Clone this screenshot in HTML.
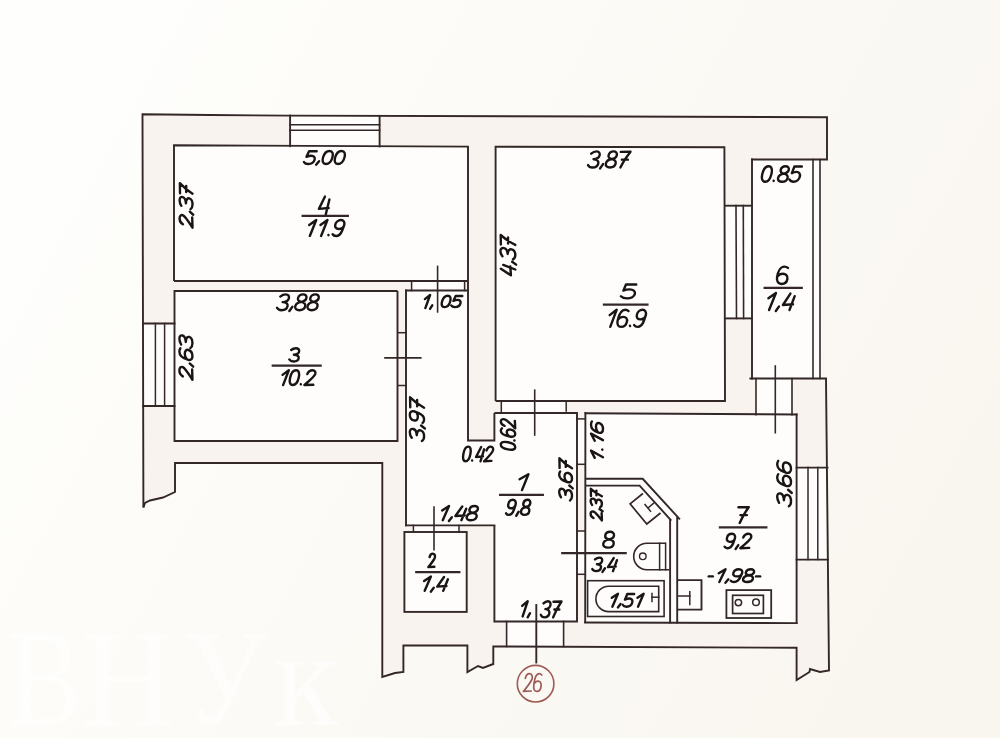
<!DOCTYPE html>
<html><head><meta charset="utf-8"><style>
html,body{margin:0;padding:0;background:#faf8f5;}
svg{display:block}
.t{font-family:"Liberation Sans",sans-serif;font-style:italic;fill:#1a1414;stroke:#1a1414}
.hw path{fill:none;stroke:#1a1414;stroke-width:2.4;stroke-linecap:round;stroke-linejoin:round;vector-effect:non-scaling-stroke}
.hw.r path{stroke:#9e5b55;stroke-width:1.7}
</style></head><body>
<svg width="1000" height="738" viewBox="0 0 1000 738">
<defs><linearGradient id="bgg" x1="0" y1="0.3" x2="1" y2="0.7"><stop offset="0" stop-color="#fefefc"/><stop offset="0.6" stop-color="#fbf9f4"/><stop offset="1" stop-color="#f9f6f0"/></linearGradient></defs><rect width="1000" height="738" fill="url(#bgg)"/>
<polygon points="142.5,114.3 210,115 290,115.6 610,116.5 827,117.3 827,159.5 820,159.5 820,378.5 826,378.5 829,670.5 820,672 810,669 809.5,672 796.6,680 796.6,647.8 493.3,646.5 493.3,664 483,668 478,666 467.4,672 467.4,645.5 403.4,645.5 403.4,672 395,673 382.3,677 382.3,463 175,463 175,492 163,497.5 150,500.5 145,503 143.4,507.5" fill="#f9f3ef" stroke="none" stroke-width="0" stroke-linejoin="miter"/>
<rect x="174" y="146" width="294" height="135" fill="#fefdfc"/>
<rect x="174.5" y="291" width="223.0" height="150" fill="#fefdfc"/>
<rect x="495" y="147" width="230" height="254" fill="#fefdfc"/>
<rect x="752" y="159.5" width="61" height="219.0" fill="#fefdfc"/>
<rect x="406" y="290.5" width="62" height="234.89999999999998" fill="#fefdfc"/>
<rect x="494.4" y="413" width="82.60000000000002" height="208.5" fill="#fefdfc"/>
<rect x="406" y="440.5" width="88.39999999999998" height="84.89999999999998" fill="#fefdfc"/>
<rect x="404.4" y="532" width="62.30000000000001" height="79.89999999999998" fill="#fefdfc"/>
<rect x="585" y="414.5" width="211.60000000000002" height="208.5" fill="#fefdfc"/>
<rect x="577" y="419" width="8" height="45.3" fill="#fefdfc"/>
<rect x="577" y="531" width="8" height="43.3" fill="#fefdfc"/>
<rect x="813" y="159.5" width="7" height="219" fill="#fefdfc"/>
<rect x="290" y="115.8" width="89.5" height="30.5" fill="#fefdfc"/>
<rect x="143" y="323.5" width="31.5" height="82.5" fill="#fefdfc"/>
<rect x="725" y="205.7" width="27" height="112.7" fill="#fefdfc"/>
<rect x="797" y="467.6" width="31" height="92" fill="#fefdfc"/>
<rect x="756" y="378.5" width="36" height="36" fill="#fefdfc"/>
<rect x="501.3" y="401" width="65" height="12" fill="#fefdfc"/>
<rect x="411.6" y="281" width="53" height="9.5" fill="#fefdfc"/>
<rect x="506.6" y="621.5" width="57" height="25" fill="#fefdfc"/>
<rect x="413.4" y="525.4" width="45.6" height="6.6" fill="#fefdfc"/>
<polyline points="143.4,507.5 142.5,114.3 210,115 290,115.6 610,116.5 827,117.3 827,159.5 751,159.5" fill="none" stroke="#332727" stroke-width="1.9" stroke-linejoin="miter"/>
<polyline points="826,378.5 829,670.5 820,672 810,669 809.5,672 796.6,680 796.6,647.8 493.3,646.5 493.3,664 483,668 478,666 467.4,672 467.4,645.5 403.4,645.5 403.4,672 395,673 382.3,677 382.3,463 175,463 175,492 163,497.5 150,500.5 145,503 143.4,507.5" fill="none" stroke="#332727" stroke-width="1.9" stroke-linejoin="miter"/>
<line x1="290.1" y1="115.6" x2="290.1" y2="146.2" stroke="#332727" stroke-width="1.9" stroke-linecap="square"/>
<line x1="379.6" y1="115.9" x2="379.6" y2="146.4" stroke="#332727" stroke-width="1.9" stroke-linecap="square"/>
<line x1="290" y1="124.7" x2="379.6" y2="124.7" stroke="#332727" stroke-width="1.6" stroke-linecap="square"/>
<line x1="290" y1="130.3" x2="379.6" y2="130.3" stroke="#332727" stroke-width="1.6" stroke-linecap="square"/>
<polyline points="174,281 174,145.3 468,146.6 468,281 174,281" fill="none" stroke="#332727" stroke-width="1.9" stroke-linejoin="miter"/>
<polyline points="397.5,291 174.5,291 174.5,441 397.5,441 397.5,291" fill="none" stroke="#332727" stroke-width="1.9" stroke-linejoin="miter"/>
<line x1="143" y1="323.5" x2="174.5" y2="323.5" stroke="#332727" stroke-width="1.9" stroke-linecap="square"/>
<line x1="143" y1="406" x2="174.5" y2="406" stroke="#332727" stroke-width="1.9" stroke-linecap="square"/>
<line x1="155.4" y1="323.5" x2="155.4" y2="406" stroke="#332727" stroke-width="1.5" stroke-linecap="square"/>
<line x1="164.6" y1="323.5" x2="164.6" y2="406" stroke="#332727" stroke-width="1.5" stroke-linecap="square"/>
<line x1="406" y1="290.5" x2="468" y2="290.5" stroke="#332727" stroke-width="1.9" stroke-linecap="square"/>
<line x1="406" y1="290.5" x2="406" y2="525.4" stroke="#332727" stroke-width="1.9" stroke-linecap="square"/>
<polyline points="468,281 468,440.5 494.4,440.5 494.4,413" fill="none" stroke="#332727" stroke-width="1.9" stroke-linejoin="miter"/>
<line x1="411.6" y1="281" x2="411.6" y2="290.5" stroke="#332727" stroke-width="1.5" stroke-linecap="square"/>
<line x1="464.6" y1="281" x2="464.6" y2="290.5" stroke="#332727" stroke-width="1.5" stroke-linecap="square"/>
<line x1="437.6" y1="266.4" x2="437.6" y2="311.9" stroke="#332727" stroke-width="1.6" stroke-linecap="square"/>
<line x1="398" y1="332.7" x2="406" y2="332.7" stroke="#332727" stroke-width="1.5" stroke-linecap="square"/>
<line x1="398" y1="385.5" x2="406" y2="385.5" stroke="#332727" stroke-width="1.5" stroke-linecap="square"/>
<line x1="385" y1="357.9" x2="420.8" y2="357.9" stroke="#332727" stroke-width="1.6" stroke-linecap="square"/>
<polyline points="495.6,401 495.6,146.7 724.4,147.2 725,401 495.6,401" fill="none" stroke="#332727" stroke-width="1.9" stroke-linejoin="miter"/>
<line x1="501.3" y1="401" x2="501.3" y2="413" stroke="#332727" stroke-width="1.5" stroke-linecap="square"/>
<line x1="566.2" y1="401" x2="566.2" y2="411" stroke="#332727" stroke-width="1.5" stroke-linecap="square"/>
<line x1="534.7" y1="390.2" x2="534.7" y2="435" stroke="#332727" stroke-width="1.6" stroke-linecap="square"/>
<line x1="725" y1="205.7" x2="752" y2="205.7" stroke="#332727" stroke-width="1.9" stroke-linecap="square"/>
<line x1="736" y1="205.6" x2="736.5" y2="318.4" stroke="#332727" stroke-width="1.6" stroke-linecap="square"/>
<line x1="743.3" y1="205.6" x2="743.6" y2="318.4" stroke="#332727" stroke-width="1.6" stroke-linecap="square"/>
<line x1="725" y1="318.4" x2="752" y2="318.4" stroke="#332727" stroke-width="1.9" stroke-linecap="square"/>
<line x1="752" y1="159.5" x2="752" y2="378.5" stroke="#332727" stroke-width="1.9" stroke-linecap="square"/>
<line x1="813" y1="159.5" x2="813" y2="378.5" stroke="#332727" stroke-width="1.6" stroke-linecap="square"/>
<line x1="820" y1="159.5" x2="820" y2="378.5" stroke="#332727" stroke-width="1.6" stroke-linecap="square"/>
<line x1="750.4" y1="378.5" x2="826" y2="378.5" stroke="#332727" stroke-width="1.9" stroke-linecap="square"/>
<line x1="756" y1="378.5" x2="756" y2="414.8" stroke="#332727" stroke-width="1.6" stroke-linecap="square"/>
<line x1="792" y1="378.5" x2="792" y2="414.8" stroke="#332727" stroke-width="1.6" stroke-linecap="square"/>
<line x1="775.3" y1="366" x2="775.3" y2="432.7" stroke="#332727" stroke-width="1.6" stroke-linecap="square"/>
<polyline points="494.4,525.4 494.4,621.5 577,621.5 577,413 494.4,413" fill="none" stroke="#332727" stroke-width="1.9" stroke-linejoin="miter"/>
<line x1="406" y1="525.4" x2="494.4" y2="525.4" stroke="#332727" stroke-width="1.9" stroke-linecap="square"/>
<rect x="404.4" y="532" width="62.30000000000001" height="79.89999999999998" fill="none" stroke="#332727" stroke-width="1.9"/>
<line x1="413.4" y1="525.4" x2="413.4" y2="532" stroke="#332727" stroke-width="1.5" stroke-linecap="square"/>
<line x1="459" y1="525.4" x2="459" y2="532" stroke="#332727" stroke-width="1.5" stroke-linecap="square"/>
<line x1="434" y1="507" x2="434" y2="549.8" stroke="#332727" stroke-width="1.6" stroke-linecap="square"/>
<line x1="506.6" y1="621.5" x2="506.6" y2="646.5" stroke="#332727" stroke-width="1.6" stroke-linecap="square"/>
<line x1="563.6" y1="621.5" x2="563.6" y2="646.5" stroke="#332727" stroke-width="1.6" stroke-linecap="square"/>
<line x1="536.3" y1="605" x2="536.3" y2="662.5" stroke="#332727" stroke-width="1.9" stroke-linecap="square"/>
<line x1="585.4" y1="413" x2="585.2" y2="622" stroke="#332727" stroke-width="1.9" stroke-linecap="square"/>
<line x1="585.5" y1="413.3" x2="796.6" y2="414.5" stroke="#332727" stroke-width="1.9" stroke-linecap="square"/>
<line x1="796.6" y1="414.5" x2="796.6" y2="623.1" stroke="#332727" stroke-width="1.9" stroke-linecap="square"/>
<line x1="585" y1="622.5" x2="796.6" y2="623.1" stroke="#332727" stroke-width="1.9" stroke-linecap="square"/>
<line x1="577" y1="418.9" x2="585" y2="418.9" stroke="#332727" stroke-width="1.5" stroke-linecap="square"/>
<line x1="577" y1="464.3" x2="585" y2="464.3" stroke="#332727" stroke-width="1.5" stroke-linecap="square"/>
<line x1="577" y1="531" x2="585" y2="531" stroke="#332727" stroke-width="1.5" stroke-linecap="square"/>
<line x1="577" y1="574.3" x2="585" y2="574.3" stroke="#332727" stroke-width="1.5" stroke-linecap="square"/>
<line x1="796.6" y1="467.6" x2="827.5" y2="467.6" stroke="#332727" stroke-width="1.9" stroke-linecap="square"/>
<line x1="796.6" y1="559.6" x2="828" y2="559.6" stroke="#332727" stroke-width="1.9" stroke-linecap="square"/>
<line x1="808" y1="467.6" x2="808" y2="559.6" stroke="#332727" stroke-width="1.5" stroke-linecap="square"/>
<line x1="817.8" y1="467.6" x2="817.8" y2="559.6" stroke="#332727" stroke-width="1.5" stroke-linecap="square"/>
<polyline points="585,478.8 642.7,478.8 679.9,519.4" fill="none" stroke="#332727" stroke-width="1.9" stroke-linejoin="miter"/>
<line x1="677.2" y1="518" x2="677.2" y2="622.5" stroke="#332727" stroke-width="1.9" stroke-linecap="square"/>
<polyline points="585,485.6 639.6,485.6 671.3,520.6" fill="none" stroke="#332727" stroke-width="1.9" stroke-linejoin="miter"/>
<line x1="670.1" y1="520" x2="670.1" y2="622.5" stroke="#332727" stroke-width="1.9" stroke-linecap="square"/>
<polyline points="642.9,493.5 630.1,503.9 646.8,524 660.5,513" fill="none" stroke="#332727" stroke-width="1.7" stroke-linejoin="miter"/>
<line x1="645" y1="504.5" x2="650.5" y2="511.2" stroke="#332727" stroke-width="1.5" stroke-linecap="square"/>
<line x1="648.2" y1="507.8" x2="653.5" y2="503.4" stroke="#332727" stroke-width="1.5" stroke-linecap="square"/>
<rect x="587.6" y="580.7" width="76.5" height="35.799999999999955" fill="none" stroke="#332727" stroke-width="1.6"/>
<path d="M658.7,586.2 L608.6,586.2 A12.7,12.7 0 0 0 608.6,611.6 L658.7,611.6 Z" fill="none" stroke="#332727" stroke-width="1.6"/>
<line x1="652" y1="597.2" x2="658.7" y2="597.2" stroke="#332727" stroke-width="1.5" stroke-linecap="square"/>
<line x1="652" y1="593.5" x2="652" y2="601.5" stroke="#332727" stroke-width="1.5" stroke-linecap="square"/>
<path d="M666,543.3 L646.9,543.3 A13.2,13.25 0 0 0 646.9,569.8 L669.6,569.8" fill="none" stroke="#332727" stroke-width="1.6"/>
<line x1="659.6" y1="543.3" x2="659.6" y2="569.8" stroke="#332727" stroke-width="1.5" stroke-linecap="square"/>
<line x1="665.6" y1="543.3" x2="665.6" y2="569.8" stroke="#332727" stroke-width="1.5" stroke-linecap="square"/>
<circle cx="642.8" cy="556.3" r="3.3" fill="none" stroke="#332727" stroke-width="1.4"/>
<polyline points="677.2,580.1 701.5,580.1 701.5,609.6 677.2,609.6" fill="none" stroke="#332727" stroke-width="1.9" stroke-linejoin="miter"/>
<line x1="678.8" y1="596" x2="689.8" y2="596" stroke="#332727" stroke-width="1.5" stroke-linecap="square"/>
<line x1="689.8" y1="591.7" x2="689.8" y2="604.5" stroke="#332727" stroke-width="1.5" stroke-linecap="square"/>
<rect x="726.4" y="590.1" width="44.80000000000007" height="27.899999999999977" fill="none" stroke="#332727" stroke-width="1.8"/>
<rect x="732.6" y="595.3" width="30.799999999999955" height="18.200000000000045" fill="none" stroke="#332727" stroke-width="1.7"/>
<circle cx="738.4" cy="602.6" r="3.2" fill="none" stroke="#332727" stroke-width="1.5"/>
<circle cx="756" cy="602.3" r="3.3" fill="none" stroke="#332727" stroke-width="1.5"/>
<line x1="302.7" y1="215.8" x2="347.8" y2="215.8" stroke="#332727" stroke-width="2.3" stroke-linecap="square"/>
<line x1="764.7" y1="287.8" x2="801.7" y2="287.8" stroke="#332727" stroke-width="2.3" stroke-linecap="square"/>
<line x1="604" y1="304.7" x2="647.4" y2="304.7" stroke="#332727" stroke-width="2.3" stroke-linecap="square"/>
<line x1="272.8" y1="365.7" x2="320.6" y2="365.7" stroke="#332727" stroke-width="2.3" stroke-linecap="square"/>
<line x1="500.2" y1="494.9" x2="542.8" y2="494.9" stroke="#332727" stroke-width="2.3" stroke-linecap="square"/>
<line x1="416.3" y1="572.2" x2="459.3" y2="572.2" stroke="#332727" stroke-width="2.3" stroke-linecap="square"/>
<line x1="562.3" y1="553.2" x2="625.6" y2="553.2" stroke="#332727" stroke-width="2.3" stroke-linecap="square"/>
<line x1="720" y1="527.4" x2="766.3" y2="527.4" stroke="#332727" stroke-width="2.3" stroke-linecap="square"/>
<g transform="translate(303.20,151.00) scale(1.0409,0.8110) matrix(1,0,-0.22,1,3.52,0)" class="hw"><path transform="translate(0.00,0)" d="M9.5,0.3 L2.2,0.3 L1.2,7.2 C2.5,6.2 4,5.8 5.5,5.8 C8,5.8 9.8,7.8 9.8,10.8 C9.8,13.8 7.6,16 4.8,16 C2.8,16 1.2,15 0.2,13.6"/><path transform="translate(11.60,0)" d="M2.9,12.6 L1.0,16.9"/><path transform="translate(16.80,0)" d="M5,0 C8,0 9.5,3.5 9.5,8 C9.5,12.5 8,16 5,16 C2,16 0.5,12.5 0.5,8 C0.5,3.5 2,0 5,0 Z"/><path transform="translate(28.40,0)" d="M5,0 C8,0 9.5,3.5 9.5,8 C9.5,12.5 8,16 5,16 C2,16 0.5,12.5 0.5,8 C0.5,3.5 2,0 5,0 Z"/></g>
<g transform="translate(587.20,151.40) scale(1.0399,1.0063) matrix(1,0,-0.22,1,3.52,0)" class="hw"><path transform="translate(0.00,0)" d="M0.8,2.2 C2.2,0.6 3.8,0 5.5,0 C8,0 9.3,1.8 9.3,3.9 C9.3,6.2 7.5,7.6 4.3,7.8 C8,8 9.8,9.8 9.8,12 C9.8,14.6 7.6,16 5,16 C3,16 1.4,15.2 0.2,13.5"/><path transform="translate(11.60,0)" d="M2.9,12.6 L1.0,16.9"/><path transform="translate(16.80,0)" d="M5,7.6 C2.2,7.1 1.1,5.6 1.1,3.8 C1.1,1.5 2.9,0 5.1,0 C7.3,0 9,1.5 9,3.8 C9,5.6 7.9,7.1 5,7.6 C1.9,8.1 0.3,10 0.3,12.1 C0.3,14.6 2.4,16 5,16 C7.7,16 9.7,14.6 9.7,12.1 C9.7,10 8.1,8.1 5,7.6 Z"/><path transform="translate(28.40,0)" d="M0.5,0.5 L9.8,0.3 C7,5 5,10 3.5,16 M3.2,8.2 L9,8.2"/></g>
<g transform="translate(760.00,166.20) scale(1.0167,0.9710) matrix(1,0,-0.22,1,3.52,0)" class="hw"><path transform="translate(0.00,0)" d="M5,0 C8,0 9.5,3.5 9.5,8 C9.5,12.5 8,16 5,16 C2,16 0.5,12.5 0.5,8 C0.5,3.5 2,0 5,0 Z"/><path transform="translate(11.60,0)" d="M1.6,15 L1.7,15.2"/><path transform="translate(16.60,0)" d="M5,7.6 C2.2,7.1 1.1,5.6 1.1,3.8 C1.1,1.5 2.9,0 5.1,0 C7.3,0 9,1.5 9,3.8 C9,5.6 7.9,7.1 5,7.6 C1.9,8.1 0.3,10 0.3,12.1 C0.3,14.6 2.4,16 5,16 C7.7,16 9.7,14.6 9.7,12.1 C9.7,10 8.1,8.1 5,7.6 Z"/><path transform="translate(28.20,0)" d="M9.5,0.3 L2.2,0.3 L1.2,7.2 C2.5,6.2 4,5.8 5.5,5.8 C8,5.8 9.8,7.8 9.8,10.8 C9.8,13.8 7.6,16 4.8,16 C2.8,16 1.2,15 0.2,13.6"/></g>
<g transform="translate(317.40,196.00) scale(1.1060,1.1372) matrix(1,0,-0.12,1,1.92,0)" class="hw"><path transform="translate(0.00,0)" d="M5,0.5 L0.8,11.3 L9.5,10.6 M9.3,3 L7.6,16"/></g>
<g transform="translate(304.00,220.00) scale(1.0607,0.9972) matrix(1,0,-0.22,1,3.52,0)" class="hw"><path transform="translate(0.00,0)" d="M2.5,5 L8,0 L5.5,16"/><path transform="translate(10.60,0)" d="M2.5,5 L8,0 L5.5,16"/><path transform="translate(21.20,0)" d="M1.6,15 L1.7,15.2"/><path transform="translate(26.20,0)" d="M9.3,5 C9.3,7.6 7.3,9 5,9 C2.6,9 0.8,7.4 0.8,4.6 C0.8,2 2.7,0 5.1,0 C7.6,0 9.3,2 9.3,5 L8.6,10.5 C8.1,14 6.5,16 4,16 C2.5,16 1.3,15.4 0.4,14.3"/></g>
<g transform="translate(775.60,266.60) scale(1.1714,1.0844) matrix(1,0,-0.12,1,1.92,0)" class="hw"><path transform="translate(0.00,0)" d="M8.8,1.2 C7.8,0.4 6.7,0 5.6,0 C2.5,0 0.5,4 0.5,10 C0.5,14 2.5,16 5,16 C7.7,16 9.5,14 9.5,11.2 C9.5,8.3 7.6,6.6 5.1,6.6 C3.1,6.6 1.6,7.6 0.7,9.2"/></g>
<g transform="translate(762.80,293.00) scale(1.1406,1.0645) matrix(1,0,-0.22,1,3.52,0)" class="hw"><path transform="translate(0.00,0)" d="M2.5,5 L8,0 L5.5,16"/><path transform="translate(10.60,0)" d="M2.9,12.6 L1.0,16.9"/><path transform="translate(15.80,0)" d="M5,0.5 L0.8,11.3 L9.5,10.6 M9.3,3 L7.6,16"/></g>
<g transform="translate(620.20,284.20) scale(1.4116,0.8883) matrix(1,0,-0.12,1,1.92,0)" class="hw"><path transform="translate(0.00,0)" d="M9.5,0.3 L2.2,0.3 L1.2,7.2 C2.5,6.2 4,5.8 5.5,5.8 C8,5.8 9.8,7.8 9.8,10.8 C9.8,13.8 7.6,16 4.8,16 C2.8,16 1.2,15 0.2,13.6"/></g>
<g transform="translate(604.40,309.80) scale(1.0647,1.0651) matrix(1,0,-0.22,1,3.52,0)" class="hw"><path transform="translate(0.00,0)" d="M2.5,5 L8,0 L5.5,16"/><path transform="translate(10.60,0)" d="M8.8,1.2 C7.8,0.4 6.7,0 5.6,0 C2.5,0 0.5,4 0.5,10 C0.5,14 2.5,16 5,16 C7.7,16 9.5,14 9.5,11.2 C9.5,8.3 7.6,6.6 5.1,6.6 C3.1,6.6 1.6,7.6 0.7,9.2"/><path transform="translate(22.20,0)" d="M1.6,15 L1.7,15.2"/><path transform="translate(27.20,0)" d="M9.3,5 C9.3,7.6 7.3,9 5,9 C2.6,9 0.8,7.4 0.8,4.6 C0.8,2 2.7,0 5.1,0 C7.6,0 9.3,2 9.3,5 L8.6,10.5 C8.1,14 6.5,16 4,16 C2.5,16 1.3,15.4 0.4,14.3"/></g>
<g transform="translate(276.20,294.40) scale(1.0602,0.9863) matrix(1,0,-0.22,1,3.52,0)" class="hw"><path transform="translate(0.00,0)" d="M0.8,2.2 C2.2,0.6 3.8,0 5.5,0 C8,0 9.3,1.8 9.3,3.9 C9.3,6.2 7.5,7.6 4.3,7.8 C8,8 9.8,9.8 9.8,12 C9.8,14.6 7.6,16 5,16 C3,16 1.4,15.2 0.2,13.5"/><path transform="translate(11.60,0)" d="M2.9,12.6 L1.0,16.9"/><path transform="translate(16.80,0)" d="M5,7.6 C2.2,7.1 1.1,5.6 1.1,3.8 C1.1,1.5 2.9,0 5.1,0 C7.3,0 9,1.5 9,3.8 C9,5.6 7.9,7.1 5,7.6 C1.9,8.1 0.3,10 0.3,12.1 C0.3,14.6 2.4,16 5,16 C7.7,16 9.7,14.6 9.7,12.1 C9.7,10 8.1,8.1 5,7.6 Z"/><path transform="translate(28.40,0)" d="M5,7.6 C2.2,7.1 1.1,5.6 1.1,3.8 C1.1,1.5 2.9,0 5.1,0 C7.3,0 9,1.5 9,3.8 C9,5.6 7.9,7.1 5,7.6 C1.9,8.1 0.3,10 0.3,12.1 C0.3,14.6 2.4,16 5,16 C7.7,16 9.7,14.6 9.7,12.1 C9.7,10 8.1,8.1 5,7.6 Z"/></g>
<g transform="translate(288.80,348.20) scale(0.9610,0.8304) matrix(1,0,-0.12,1,1.92,0)" class="hw"><path transform="translate(0.00,0)" d="M0.8,2.2 C2.2,0.6 3.8,0 5.5,0 C8,0 9.3,1.8 9.3,3.9 C9.3,6.2 7.5,7.6 4.3,7.8 C8,8 9.8,9.8 9.8,12 C9.8,14.6 7.6,16 5,16 C3,16 1.4,15.2 0.2,13.5"/></g>
<g transform="translate(277.80,370.20) scale(0.9577,0.9288) matrix(1,0,-0.22,1,3.52,0)" class="hw"><path transform="translate(0.00,0)" d="M2.5,5 L8,0 L5.5,16"/><path transform="translate(10.60,0)" d="M5,0 C8,0 9.5,3.5 9.5,8 C9.5,12.5 8,16 5,16 C2,16 0.5,12.5 0.5,8 C0.5,3.5 2,0 5,0 Z"/><path transform="translate(22.20,0)" d="M1.6,15 L1.7,15.2"/><path transform="translate(27.20,0)" d="M1,4.2 C1.5,1.3 3.5,0 5.5,0 C8,0 9.5,1.8 9.3,4.3 C9,7 6,10 0.5,16 L9.8,15.6"/></g>
<g transform="translate(421.00,295.00) scale(0.7907,0.8193) matrix(1,0,-0.22,1,3.52,0)" class="hw"><path transform="translate(0.00,0)" d="M2.5,5 L8,0 L5.5,16"/><path transform="translate(10.60,0)" d="M2.9,12.6 L1.0,16.9"/></g>
<g transform="translate(440.00,295.80) scale(0.9085,0.7071) matrix(1,0,-0.22,1,3.52,0)" class="hw"><path transform="translate(0.00,0)" d="M5,0 C8,0 9.5,3.5 9.5,8 C9.5,12.5 8,16 5,16 C2,16 0.5,12.5 0.5,8 C0.5,3.5 2,0 5,0 Z"/><path transform="translate(11.60,0)" d="M9.5,0.3 L2.2,0.3 L1.2,7.2 C2.5,6.2 4,5.8 5.5,5.8 C8,5.8 9.8,7.8 9.8,10.8 C9.8,13.8 7.6,16 4.8,16 C2.8,16 1.2,15 0.2,13.6"/></g>
<g transform="translate(514.00,474.20) scale(1.4534,0.9957) matrix(1,0,-0.12,1,1.92,0)" class="hw"><path transform="translate(0.00,0)" d="M2.5,5 L8,0 L5.5,16"/></g>
<g transform="translate(505.40,499.80) scale(0.8716,0.9449) matrix(1,0,-0.22,1,3.52,0)" class="hw"><path transform="translate(0.00,0)" d="M9.3,5 C9.3,7.6 7.3,9 5,9 C2.6,9 0.8,7.4 0.8,4.6 C0.8,2 2.7,0 5.1,0 C7.6,0 9.3,2 9.3,5 L8.6,10.5 C8.1,14 6.5,16 4,16 C2.5,16 1.3,15.4 0.4,14.3"/><path transform="translate(11.60,0)" d="M2.9,12.6 L1.0,16.9"/><path transform="translate(16.80,0)" d="M5,7.6 C2.2,7.1 1.1,5.6 1.1,3.8 C1.1,1.5 2.9,0 5.1,0 C7.3,0 9,1.5 9,3.8 C9,5.6 7.9,7.1 5,7.6 C1.9,8.1 0.3,10 0.3,12.1 C0.3,14.6 2.4,16 5,16 C7.7,16 9.7,14.6 9.7,12.1 C9.7,10 8.1,8.1 5,7.6 Z"/></g>
<g transform="translate(428.00,553.60) scale(0.6464,0.8423) matrix(1,0,-0.12,1,1.92,0)" class="hw"><path transform="translate(0.00,0)" d="M1,4.2 C1.5,1.3 3.5,0 5.5,0 C8,0 9.5,1.8 9.3,4.3 C9,7 6,10 0.5,16 L9.8,15.6"/></g>
<g transform="translate(419.00,576.60) scale(1.0343,0.8907) matrix(1,0,-0.22,1,3.52,0)" class="hw"><path transform="translate(0.00,0)" d="M2.5,5 L8,0 L5.5,16"/><path transform="translate(10.60,0)" d="M2.9,12.6 L1.0,16.9"/><path transform="translate(15.80,0)" d="M5,0.5 L0.8,11.3 L9.5,10.6 M9.3,3 L7.6,16"/></g>
<g transform="translate(437.00,506.00) scale(1.0434,0.8899) matrix(1,0,-0.22,1,3.52,0)" class="hw"><path transform="translate(0.00,0)" d="M2.5,5 L8,0 L5.5,16"/><path transform="translate(10.60,0)" d="M2.9,12.6 L1.0,16.9"/><path transform="translate(15.80,0)" d="M5,0.5 L0.8,11.3 L9.5,10.6 M9.3,3 L7.6,16"/><path transform="translate(27.40,0)" d="M5,7.6 C2.2,7.1 1.1,5.6 1.1,3.8 C1.1,1.5 2.9,0 5.1,0 C7.3,0 9,1.5 9,3.8 C9,5.6 7.9,7.1 5,7.6 C1.9,8.1 0.3,10 0.3,12.1 C0.3,14.6 2.4,16 5,16 C7.7,16 9.7,14.6 9.7,12.1 C9.7,10 8.1,8.1 5,7.6 Z"/></g>
<g transform="translate(518.00,601.20) scale(0.8457,0.9521) matrix(1,0,-0.22,1,3.52,0)" class="hw"><path transform="translate(0.00,0)" d="M2.5,5 L8,0 L5.5,16"/><path transform="translate(10.60,0)" d="M2.9,12.6 L1.0,16.9"/></g>
<g transform="translate(540.20,601.20) scale(0.8569,1.0115) matrix(1,0,-0.22,1,3.52,0)" class="hw"><path transform="translate(0.00,0)" d="M0.8,2.2 C2.2,0.6 3.8,0 5.5,0 C8,0 9.3,1.8 9.3,3.9 C9.3,6.2 7.5,7.6 4.3,7.8 C8,8 9.8,9.8 9.8,12 C9.8,14.6 7.6,16 5,16 C3,16 1.4,15.2 0.2,13.5"/><path transform="translate(11.60,0)" d="M0.5,0.5 L9.8,0.3 C7,5 5,10 3.5,16 M3.2,8.2 L9,8.2"/></g>
<g transform="translate(602.40,531.80) scale(1.1094,0.9916) matrix(1,0,-0.12,1,1.92,0)" class="hw"><path transform="translate(0.00,0)" d="M5,7.6 C2.2,7.1 1.1,5.6 1.1,3.8 C1.1,1.5 2.9,0 5.1,0 C7.3,0 9,1.5 9,3.8 C9,5.6 7.9,7.1 5,7.6 C1.9,8.1 0.3,10 0.3,12.1 C0.3,14.6 2.4,16 5,16 C7.7,16 9.7,14.6 9.7,12.1 C9.7,10 8.1,8.1 5,7.6 Z"/></g>
<g transform="translate(591.60,557.60) scale(0.8765,0.8466) matrix(1,0,-0.22,1,3.52,0)" class="hw"><path transform="translate(0.00,0)" d="M0.8,2.2 C2.2,0.6 3.8,0 5.5,0 C8,0 9.3,1.8 9.3,3.9 C9.3,6.2 7.5,7.6 4.3,7.8 C8,8 9.8,9.8 9.8,12 C9.8,14.6 7.6,16 5,16 C3,16 1.4,15.2 0.2,13.5"/><path transform="translate(11.60,0)" d="M2.9,12.6 L1.0,16.9"/><path transform="translate(16.80,0)" d="M5,0.5 L0.8,11.3 L9.5,10.6 M9.3,3 L7.6,16"/></g>
<g transform="translate(607.20,593.80) scale(0.9368,0.8049) matrix(1,0,-0.22,1,3.52,0)" class="hw"><path transform="translate(0.00,0)" d="M2.5,5 L8,0 L5.5,16"/><path transform="translate(10.60,0)" d="M2.9,12.6 L1.0,16.9"/><path transform="translate(15.80,0)" d="M9.5,0.3 L2.2,0.3 L1.2,7.2 C2.5,6.2 4,5.8 5.5,5.8 C8,5.8 9.8,7.8 9.8,10.8 C9.8,13.8 7.6,16 4.8,16 C2.8,16 1.2,15 0.2,13.6"/><path transform="translate(27.40,0)" d="M2.5,5 L8,0 L5.5,16"/></g>
<g transform="translate(735.80,506.80) scale(1.1167,1.0132) matrix(1,0,-0.12,1,1.92,0)" class="hw"><path transform="translate(0.00,0)" d="M0.5,0.5 L9.8,0.3 C7,5 5,10 3.5,16 M3.2,8.2 L9,8.2"/></g>
<g transform="translate(723.80,533.80) scale(0.9522,0.8991) matrix(1,0,-0.22,1,3.52,0)" class="hw"><path transform="translate(0.00,0)" d="M9.3,5 C9.3,7.6 7.3,9 5,9 C2.6,9 0.8,7.4 0.8,4.6 C0.8,2 2.7,0 5.1,0 C7.6,0 9.3,2 9.3,5 L8.6,10.5 C8.1,14 6.5,16 4,16 C2.5,16 1.3,15.4 0.4,14.3"/><path transform="translate(11.60,0)" d="M2.9,12.6 L1.0,16.9"/><path transform="translate(16.80,0)" d="M1,4.2 C1.5,1.3 3.5,0 5.5,0 C8,0 9.5,1.8 9.3,4.3 C9,7 6,10 0.5,16 L9.8,15.6"/></g>
<g transform="translate(706.60,569.20) scale(1.0340,0.8009) matrix(1,0,-0.22,1,3.52,0)" class="hw"><path transform="translate(0.00,0)" d="M0.5,9 L4.5,9"/><path transform="translate(6.80,0)" d="M2.5,5 L8,0 L5.5,16"/><path transform="translate(17.40,0)" d="M2.9,12.6 L1.0,16.9"/><path transform="translate(22.60,0)" d="M9.3,5 C9.3,7.6 7.3,9 5,9 C2.6,9 0.8,7.4 0.8,4.6 C0.8,2 2.7,0 5.1,0 C7.6,0 9.3,2 9.3,5 L8.6,10.5 C8.1,14 6.5,16 4,16 C2.5,16 1.3,15.4 0.4,14.3"/><path transform="translate(34.20,0)" d="M5,7.6 C2.2,7.1 1.1,5.6 1.1,3.8 C1.1,1.5 2.9,0 5.1,0 C7.3,0 9,1.5 9,3.8 C9,5.6 7.9,7.1 5,7.6 C1.9,8.1 0.3,10 0.3,12.1 C0.3,14.6 2.4,16 5,16 C7.7,16 9.7,14.6 9.7,12.1 C9.7,10 8.1,8.1 5,7.6 Z"/><path transform="translate(45.80,0)" d="M0.5,9 L4.5,9"/></g>
<g transform="translate(461.60,446.60) scale(0.7825,0.9174) matrix(1,0,-0.22,1,3.52,0)" class="hw"><path transform="translate(0.00,0)" d="M5,0 C8,0 9.5,3.5 9.5,8 C9.5,12.5 8,16 5,16 C2,16 0.5,12.5 0.5,8 C0.5,3.5 2,0 5,0 Z"/><path transform="translate(11.60,0)" d="M1.6,15 L1.7,15.2"/><path transform="translate(16.60,0)" d="M5,0.5 L0.8,11.3 L9.5,10.6 M9.3,3 L7.6,16"/><path transform="translate(28.20,0)" d="M1,4.2 C1.5,1.3 3.5,0 5.5,0 C8,0 9.5,1.8 9.3,4.3 C9,7 6,10 0.5,16 L9.8,15.6"/></g>
<g transform="translate(179.60,228.20) rotate(-90) scale(1.0830,0.8077) matrix(1,0,-0.22,1,3.52,0)" class="hw"><path transform="translate(0.00,0)" d="M1,4.2 C1.5,1.3 3.5,0 5.5,0 C8,0 9.5,1.8 9.3,4.3 C9,7 6,10 0.5,16 L9.8,15.6"/><path transform="translate(11.60,0)" d="M2.9,12.6 L1.0,16.9"/><path transform="translate(16.80,0)" d="M0.8,2.2 C2.2,0.6 3.8,0 5.5,0 C8,0 9.3,1.8 9.3,3.9 C9.3,6.2 7.5,7.6 4.3,7.8 C8,8 9.8,9.8 9.8,12 C9.8,14.6 7.6,16 5,16 C3,16 1.4,15.2 0.2,13.5"/><path transform="translate(28.40,0)" d="M0.5,0.5 L9.8,0.3 C7,5 5,10 3.5,16 M3.2,8.2 L9,8.2"/></g>
<g transform="translate(179.40,380.40) rotate(-90) scale(1.1119,0.8153) matrix(1,0,-0.22,1,3.52,0)" class="hw"><path transform="translate(0.00,0)" d="M1,4.2 C1.5,1.3 3.5,0 5.5,0 C8,0 9.5,1.8 9.3,4.3 C9,7 6,10 0.5,16 L9.8,15.6"/><path transform="translate(11.60,0)" d="M2.9,12.6 L1.0,16.9"/><path transform="translate(16.80,0)" d="M8.8,1.2 C7.8,0.4 6.7,0 5.6,0 C2.5,0 0.5,4 0.5,10 C0.5,14 2.5,16 5,16 C7.7,16 9.5,14 9.5,11.2 C9.5,8.3 7.6,6.6 5.1,6.6 C3.1,6.6 1.6,7.6 0.7,9.2"/><path transform="translate(28.40,0)" d="M0.8,2.2 C2.2,0.6 3.8,0 5.5,0 C8,0 9.3,1.8 9.3,3.9 C9.3,6.2 7.5,7.6 4.3,7.8 C8,8 9.8,9.8 9.8,12 C9.8,14.6 7.6,16 5,16 C3,16 1.4,15.2 0.2,13.5"/></g>
<g transform="translate(500.40,277.20) rotate(-90) scale(1.0132,0.9318) matrix(1,0,-0.22,1,3.52,0)" class="hw"><path transform="translate(0.00,0)" d="M5,0.5 L0.8,11.3 L9.5,10.6 M9.3,3 L7.6,16"/><path transform="translate(11.60,0)" d="M2.9,12.6 L1.0,16.9"/><path transform="translate(16.80,0)" d="M0.8,2.2 C2.2,0.6 3.8,0 5.5,0 C8,0 9.3,1.8 9.3,3.9 C9.3,6.2 7.5,7.6 4.3,7.8 C8,8 9.8,9.8 9.8,12 C9.8,14.6 7.6,16 5,16 C3,16 1.4,15.2 0.2,13.5"/><path transform="translate(28.40,0)" d="M0.5,0.5 L9.8,0.3 C7,5 5,10 3.5,16 M3.2,8.2 L9,8.2"/></g>
<g transform="translate(409.80,441.80) rotate(-90) scale(1.0683,0.8933) matrix(1,0,-0.22,1,3.52,0)" class="hw"><path transform="translate(0.00,0)" d="M0.8,2.2 C2.2,0.6 3.8,0 5.5,0 C8,0 9.3,1.8 9.3,3.9 C9.3,6.2 7.5,7.6 4.3,7.8 C8,8 9.8,9.8 9.8,12 C9.8,14.6 7.6,16 5,16 C3,16 1.4,15.2 0.2,13.5"/><path transform="translate(11.60,0)" d="M2.9,12.6 L1.0,16.9"/><path transform="translate(16.80,0)" d="M9.3,5 C9.3,7.6 7.3,9 5,9 C2.6,9 0.8,7.4 0.8,4.6 C0.8,2 2.7,0 5.1,0 C7.6,0 9.3,2 9.3,5 L8.6,10.5 C8.1,14 6.5,16 4,16 C2.5,16 1.3,15.4 0.4,14.3"/><path transform="translate(28.40,0)" d="M0.5,0.5 L9.8,0.3 C7,5 5,10 3.5,16 M3.2,8.2 L9,8.2"/></g>
<g transform="translate(500.80,451.20) rotate(-90) scale(0.7961,0.9005) matrix(1,0,-0.22,1,3.52,0)" class="hw"><path transform="translate(0.00,0)" d="M5,0 C8,0 9.5,3.5 9.5,8 C9.5,12.5 8,16 5,16 C2,16 0.5,12.5 0.5,8 C0.5,3.5 2,0 5,0 Z"/><path transform="translate(11.60,0)" d="M1.6,15 L1.7,15.2"/><path transform="translate(16.60,0)" d="M8.8,1.2 C7.8,0.4 6.7,0 5.6,0 C2.5,0 0.5,4 0.5,10 C0.5,14 2.5,16 5,16 C7.7,16 9.5,14 9.5,11.2 C9.5,8.3 7.6,6.6 5.1,6.6 C3.1,6.6 1.6,7.6 0.7,9.2"/><path transform="translate(28.20,0)" d="M1,4.2 C1.5,1.3 3.5,0 5.5,0 C8,0 9.5,1.8 9.3,4.3 C9,7 6,10 0.5,16 L9.8,15.6"/></g>
<g transform="translate(591.00,463.20) rotate(-90) scale(1.0915,0.7483) matrix(1,0,-0.22,1,3.52,0)" class="hw"><path transform="translate(0.00,0)" d="M2.5,5 L8,0 L5.5,16"/><path transform="translate(10.60,0)" d="M1.6,15 L1.7,15.2"/><path transform="translate(15.60,0)" d="M2.5,5 L8,0 L5.5,16"/><path transform="translate(26.20,0)" d="M8.8,1.2 C7.8,0.4 6.7,0 5.6,0 C2.5,0 0.5,4 0.5,10 C0.5,14 2.5,16 5,16 C7.7,16 9.5,14 9.5,11.2 C9.5,8.3 7.6,6.6 5.1,6.6 C3.1,6.6 1.6,7.6 0.7,9.2"/></g>
<g transform="translate(559.20,501.20) rotate(-90) scale(1.0299,0.8009) matrix(1,0,-0.22,1,3.52,0)" class="hw"><path transform="translate(0.00,0)" d="M0.8,2.2 C2.2,0.6 3.8,0 5.5,0 C8,0 9.3,1.8 9.3,3.9 C9.3,6.2 7.5,7.6 4.3,7.8 C8,8 9.8,9.8 9.8,12 C9.8,14.6 7.6,16 5,16 C3,16 1.4,15.2 0.2,13.5"/><path transform="translate(11.60,0)" d="M2.9,12.6 L1.0,16.9"/><path transform="translate(16.80,0)" d="M8.8,1.2 C7.8,0.4 6.7,0 5.6,0 C2.5,0 0.5,4 0.5,10 C0.5,14 2.5,16 5,16 C7.7,16 9.5,14 9.5,11.2 C9.5,8.3 7.6,6.6 5.1,6.6 C3.1,6.6 1.6,7.6 0.7,9.2"/><path transform="translate(28.40,0)" d="M0.5,0.5 L9.8,0.3 C7,5 5,10 3.5,16 M3.2,8.2 L9,8.2"/></g>
<g transform="translate(590.60,520.80) rotate(-90) scale(0.7688,0.7071) matrix(1,0,-0.22,1,3.52,0)" class="hw"><path transform="translate(0.00,0)" d="M1,4.2 C1.5,1.3 3.5,0 5.5,0 C8,0 9.5,1.8 9.3,4.3 C9,7 6,10 0.5,16 L9.8,15.6"/><path transform="translate(11.60,0)" d="M2.9,12.6 L1.0,16.9"/><path transform="translate(16.80,0)" d="M0.8,2.2 C2.2,0.6 3.8,0 5.5,0 C8,0 9.3,1.8 9.3,3.9 C9.3,6.2 7.5,7.6 4.3,7.8 C8,8 9.8,9.8 9.8,12 C9.8,14.6 7.6,16 5,16 C3,16 1.4,15.2 0.2,13.5"/><path transform="translate(28.40,0)" d="M0.5,0.5 L9.8,0.3 C7,5 5,10 3.5,16 M3.2,8.2 L9,8.2"/></g>
<g transform="translate(777.20,507.20) rotate(-90) scale(1.1450,0.8633) matrix(1,0,-0.22,1,3.52,0)" class="hw"><path transform="translate(0.00,0)" d="M0.8,2.2 C2.2,0.6 3.8,0 5.5,0 C8,0 9.3,1.8 9.3,3.9 C9.3,6.2 7.5,7.6 4.3,7.8 C8,8 9.8,9.8 9.8,12 C9.8,14.6 7.6,16 5,16 C3,16 1.4,15.2 0.2,13.5"/><path transform="translate(11.60,0)" d="M2.9,12.6 L1.0,16.9"/><path transform="translate(16.80,0)" d="M8.8,1.2 C7.8,0.4 6.7,0 5.6,0 C2.5,0 0.5,4 0.5,10 C0.5,14 2.5,16 5,16 C7.7,16 9.5,14 9.5,11.2 C9.5,8.3 7.6,6.6 5.1,6.6 C3.1,6.6 1.6,7.6 0.7,9.2"/><path transform="translate(28.40,0)" d="M8.8,1.2 C7.8,0.4 6.7,0 5.6,0 C2.5,0 0.5,4 0.5,10 C0.5,14 2.5,16 5,16 C7.7,16 9.5,14 9.5,11.2 C9.5,8.3 7.6,6.6 5.1,6.6 C3.1,6.6 1.6,7.6 0.7,9.2"/></g>
<circle cx="535.6" cy="683.7" r="18.3" fill="none" stroke="#9e5b55" stroke-width="1.6"/>
<g transform="translate(523,673.7) scale(0.83,1.11) matrix(1,0,-0.15,1,2.4,0)" class="hw r"><path transform="translate(0.00,0)" d="M1,4.2 C1.5,1.3 3.5,0 5.5,0 C8,0 9.5,1.8 9.3,4.3 C9,7 6,10 0.5,16 L9.8,15.6"/><path transform="translate(11.60,0)" d="M8.8,1.2 C7.8,0.4 6.7,0 5.6,0 C2.5,0 0.5,4 0.5,10 C0.5,14 2.5,16 5,16 C7.7,16 9.5,14 9.5,11.2 C9.5,8.3 7.6,6.6 5.1,6.6 C3.1,6.6 1.6,7.6 0.7,9.2"/></g>
<text x="8" y="725" font-family="Liberation Serif" font-size="137" fill="#ffffff" fill-opacity="0.55" textLength="74" lengthAdjust="spacingAndGlyphs">В</text><text x="82" y="725" font-family="Liberation Serif" font-size="137" fill="#ffffff" fill-opacity="0.55" textLength="92" lengthAdjust="spacingAndGlyphs">Н</text><text x="184" y="725" font-family="Liberation Serif" font-size="137" fill="#ffffff" fill-opacity="0.55" textLength="82" lengthAdjust="spacingAndGlyphs">У</text><text x="274" y="725" font-family="Liberation Serif" font-size="137" fill="#ffffff" fill-opacity="0.55" textLength="64" lengthAdjust="spacingAndGlyphs">к</text>
</svg></body></html>
